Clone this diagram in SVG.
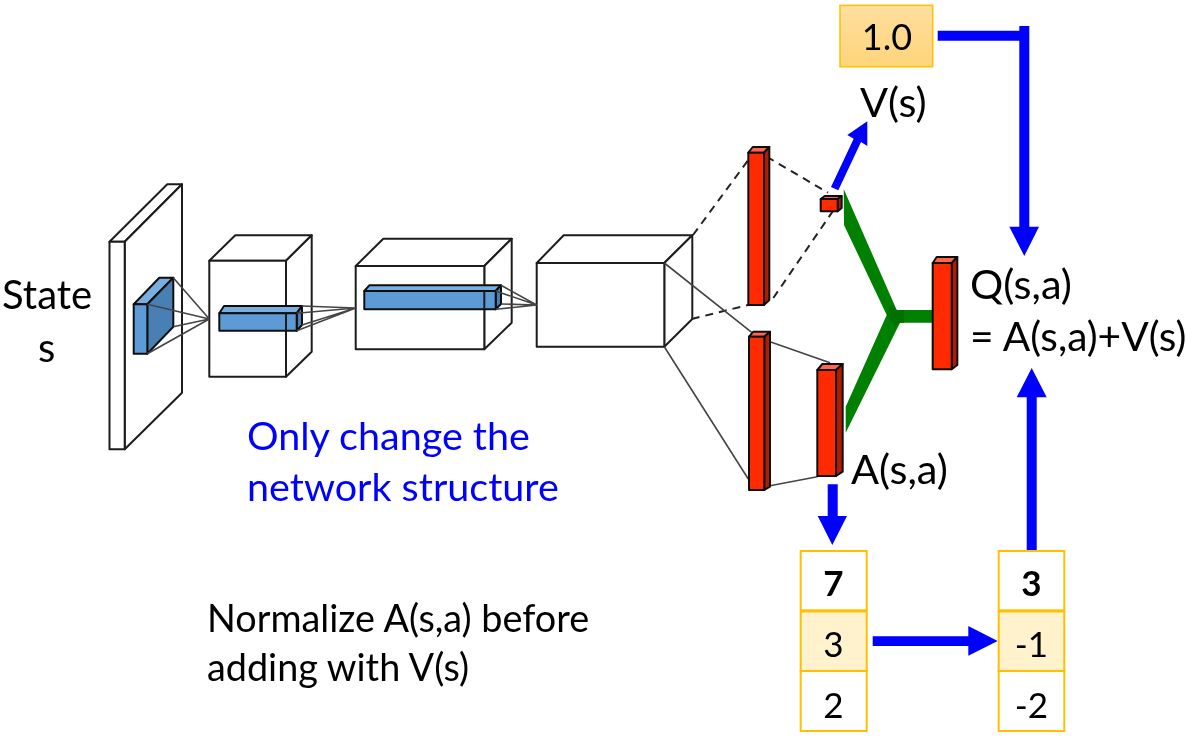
<svg xmlns="http://www.w3.org/2000/svg" width="1186" height="739" viewBox="0 0 1186 739">
<style>
text{font-family:Lato,"Open Sans",sans-serif;font-size:37.8px;fill:#000}
.box{fill:#fff;stroke:#1c1c1c;stroke-width:2;stroke-linejoin:round}
.none{fill:none;stroke:#1c1c1c;stroke-width:2;stroke-linejoin:round}
.b1{fill:#5b9bd5;stroke:#111;stroke-width:2;stroke-linejoin:round}
.b2{fill:#4a80b4;stroke:#111;stroke-width:2;stroke-linejoin:round}
.b3{fill:#79aee0;stroke:#111;stroke-width:2;stroke-linejoin:round}
.r1{fill:#ff2a00;stroke:#111;stroke-width:2;stroke-linejoin:round}
.r2{fill:#b01c00;stroke:#111;stroke-width:2;stroke-linejoin:round}
.r3{fill:#ff6650;stroke:#111;stroke-width:2;stroke-linejoin:round}
.thin{fill:none;stroke:#444;stroke-width:1.6}
.dash{fill:none;stroke:#222;stroke-width:2;stroke-dasharray:8 6}
.arrow{fill:#0000ff}
.cell{fill:#fff;stroke:#ffc000;stroke-width:2}
.cellhi{fill:#fff2cc;stroke:#ffc000;stroke-width:2}
.num{text-anchor:middle;font-size:35px}
.blue{fill:#0000ff;font-size:39.5px}
.big{font-size:41.5px}
</style>
<defs>
<linearGradient id="gold" x1="0" y1="0" x2="0" y2="1"><stop offset="0" stop-color="#ffdf9f"/><stop offset="1" stop-color="#ffd47a"/></linearGradient>
<filter id="soft" x="0" y="0" width="1186" height="739" filterUnits="userSpaceOnUse"><feGaussianBlur stdDeviation="0.45"/></filter>
</defs>
<g filter="url(#soft)">
<g id="input-slab">
<path class="box" d="M109.5 241.7H124.7L182 184.3H167.3Z"/>
<path class="box" d="M124.7 241.7L182 184.3V392.7L124.7 449.3Z"/>
<rect class="box" x="109.5" y="241.7" width="15.2" height="207.6"/>
<path class="b3" d="M133.7 304.3H147.3L173.3 277.7H159.3Z"/>
<path class="b2" d="M147.3 304.3L173.3 277.7V326.7L147.3 353.7Z"/>
<rect class="b1" x="133.7" y="304.3" width="13.6" height="49.4"/>
</g>
<g id="conv-box-1">
<path class="box" d="M209.3 260.7H286L311.7 235.3H235.3Z"/>
<path class="box" d="M286 260.7L311.7 235.3V351.7L286 376.7Z"/>
<rect class="box" x="209.3" y="260.7" width="76.7" height="116"/>
<path class="b3" d="M219.3 313.3H296.7L302 306H224Z"/>
<path class="b2" d="M296.7 313.3L302 306V325L296.7 330.7Z"/>
<rect class="b1" x="219.3" y="313.3" width="77.4" height="17.4"/>
<path class="none" d="M286 313.3V330.7"/>
</g>
<g id="conv-box-2">
<path class="box" d="M355.7 266H484.3L511.7 238.7H383.3Z"/>
<path class="box" d="M484.3 266L511.7 238.7V322.7L484.3 349.3Z"/>
<rect class="box" x="355.7" y="266" width="128.6" height="83.3"/>
<path class="b3" d="M364.3 291H495.7L501 285.3H369.3Z"/>
<path class="b2" d="M495.7 291L501 285.3V304L495.7 309.3Z"/>
<rect class="b1" x="364.3" y="291" width="131.4" height="18.3"/>
<path class="none" d="M484.3 291V309.3"/>
</g>
<g id="conv-box-3">
<path class="box" d="M536.7 263H664.3L692.3 235.3H563.7Z"/>
<path class="box" d="M664.3 263L692.3 235.3V319L664.3 346.7Z"/>
<rect class="box" x="536.7" y="263" width="127.6" height="83.7"/>
</g>
<g id="connectors">
<path class="thin" d="M173.3 277.7L209.3 319M147.3 304.3L209.3 319M173.3 326.7L209.3 319M147.3 353.7L209.3 319"/>
<path class="thin" d="M302 306L355.7 308M296.7 313.3L355.7 308M302 325L355.7 308M296.7 330.7L355.7 308"/>
<path class="thin" d="M501 285.3L536.7 305M495.7 291L536.7 305M501 304L536.7 305M495.7 309.3L536.7 305"/>
<path class="dash" d="M693 235L748.3 160M766.7 156.7L828 192.7M773.3 298L835 208M691.7 319L748 305"/>
<path class="thin" d="M664.3 263L751.7 332.3M664.3 346.7L748.3 479M770 341.7L830 362.7M770 485.7L817.3 476.7"/>
<path id="green-merge" fill="#008000" d="M843.7 189L896.7 310H932.7V322.7H900L845.7 432.7V406.7L886.7 315L844 225Z"/>
<path fill="#006f00" d="M886.7 315L891 304L896.7 310H904V322.7H900L895 326Z"/>
<path class="arrow" d="M831 187L853.7 138.7L847.3 135L867.3 121.3L867.3 146L861 142L838.3 190.3Z"/>
<path class="arrow" d="M937.7 30.7H1019.3V26H1029.3V226.7H1039L1024.3 256L1009.3 226.7H1019.3V40.7H937.7Z"/>
<path class="arrow" d="M827.7 484.3H837.7V516H847L832.3 545L817.7 516H827.7Z"/>
<path class="arrow" d="M872.7 636.3H968.3V626L997.7 641L968.3 655.7V646H872.7Z"/>
<path class="arrow" d="M1026.7 551V397.3H1016.7L1031.7 368L1046.7 397.3H1036.7V551Z"/>
</g>
<g id="red-1">
<path class="r3" d="M748.3 152.7H764L769.3 147H752.7Z"/>
<path class="r2" d="M764 152.7L769.3 147V300L764 305Z"/>
<rect class="r1" x="748.3" y="152.7" width="15.7" height="152.3"/>
</g>
<g id="red-value">
<path class="r3" d="M820.7 199H837.7L841.7 196H824.7Z"/>
<path class="r2" d="M837.7 199L841.7 196V208L837.7 211.3Z"/>
<rect class="r1" x="820.7" y="199" width="17" height="12.3"/>
</g>
<g id="red-2">
<path class="r3" d="M749 336.7H764.3L770 331.7H753.3Z"/>
<path class="r2" d="M764.3 336.7L770 331.7V486.7L764.3 490Z"/>
<rect class="r1" x="749" y="336.7" width="15.3" height="153.3"/>
</g>
<g id="red-advantage">
<path class="r3" d="M817.3 370H836L842.7 364H822.3Z"/>
<path class="r2" d="M836 370L842.7 364V471.7L836 476Z"/>
<rect class="r1" x="817.3" y="370" width="18.7" height="106"/>
</g>
<g id="red-q">
<path class="r3" d="M932.7 263H951.7L957.3 257H936.7Z"/>
<path class="r2" d="M951.7 263L957.3 257V365L951.7 369.3Z"/>
<rect class="r1" x="932.7" y="263" width="19" height="106.3"/>
</g>
<g id="value-box">
<rect x="840" y="5.3" width="92.7" height="61.4" fill="url(#gold)" stroke="#ffc000" stroke-width="1.5"/>
<text class="num" x="887" y="50" style="font-size:36px">1.0</text>
</g>
<g id="table-a">
<rect class="cell" x="800.7" y="551" width="66" height="59.3"/>
<rect class="cell" x="800.7" y="671" width="66" height="60"/>
<rect class="cellhi" x="800.7" y="611.5" width="66" height="59.5"/>
<text class="num" x="833.5" y="596" font-weight="700">7</text>
<text class="num" x="833.5" y="657">3</text>
<text class="num" x="833.5" y="718">2</text>
</g>
<g id="table-b">
<rect class="cell" x="998.7" y="551" width="65.6" height="59.3"/>
<rect class="cell" x="998.7" y="671" width="65.6" height="60"/>
<rect class="cellhi" x="998.7" y="611.5" width="65.6" height="59.5"/>
<text class="num" x="1031.5" y="596" font-weight="700">3</text>
<text class="num" x="1031.5" y="657">-1</text>
<text class="num" x="1031.5" y="718">-2</text>
</g>
<g id="labels">
<text x="2" y="309" style="font-size:40px">State</text>
<text x="38" y="362" style="font-size:40px">s</text>
<text class="big" x="860" y="117">V(s)</text>
<text class="big" x="970" y="299">Q(s,a)</text>
<text x="970" y="351" style="font-size:40.7px">= A(s,a)+V(s)</text>
<text class="big" x="851" y="484">A(s,a)</text>
<text class="blue" x="247" y="450">Only change the</text>
<text class="blue" x="247" y="501">network structure</text>
<text x="207" y="632">Normalize A(s,a) before</text>
<text x="207" y="681">adding with V(s)</text>
</g>
</g>
</svg>
